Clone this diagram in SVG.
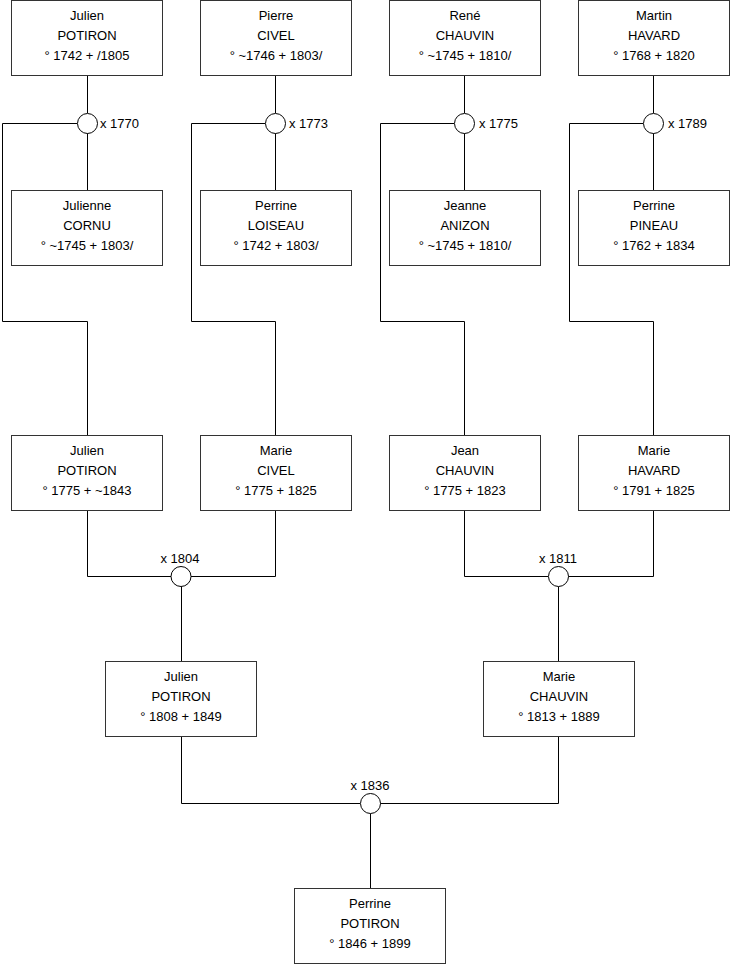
<svg xmlns="http://www.w3.org/2000/svg" width="740" height="975" viewBox="0 0 740 975">
<style>
.box{fill:#fff;stroke:#333;stroke-width:1}
.t{font-family:"Liberation Sans",Arial,sans-serif;font-size:13px;fill:#000;text-anchor:middle}
.l{font-family:"Liberation Sans",Arial,sans-serif;font-size:13px;fill:#000}
.c{fill:#fff;stroke:#000;stroke-width:1}
.w{fill:none;stroke:#000;stroke-width:1}
</style>
<rect width="740" height="975" fill="#fff"/>
<g id="connectors">
<path class="w" d="M87.5 76 V113 M87.5 133 V190 M77 123.5 H2.5 V321.5 H87.5 V435"/>
<path class="w" d="M275.5 76 V113 M275.5 133 V190 M265 123.5 H191.5 V321.5 H275.5 V435"/>
<path class="w" d="M464.5 76 V113 M464.5 133 V190 M454 123.5 H380.5 V321.5 H464.5 V435"/>
<path class="w" d="M653.5 76 V113 M653.5 133 V190 M643 123.5 H569.5 V321.5 H653.5 V435"/>
<path class="w" d="M87.5 510 V576.5 H171 M275.5 510 V576.5 H191 M181.5 586.5 V661"/>
<path class="w" d="M464.5 510 V576.5 H548 M653.5 510 V576.5 H568 M558.5 586.5 V661"/>
<path class="w" d="M181.5 737 V803.5 H360 M558.5 737 V803.5 H380 M370.5 813.5 V888"/>
<circle class="c" cx="87.5" cy="123.5" r="10"/>
<circle class="c" cx="275.5" cy="123.5" r="10"/>
<circle class="c" cx="464.5" cy="123.5" r="10"/>
<circle class="c" cx="653.5" cy="123.5" r="10"/>
<circle class="c" cx="181" cy="576.5" r="10"/>
<circle class="c" cx="558.5" cy="576.5" r="10"/>
<circle class="c" cx="370.5" cy="803.5" r="10"/>
<text class="l" x="100" y="128">x 1770</text>
<text class="l" x="289" y="128">x 1773</text>
<text class="l" x="479" y="128">x 1775</text>
<text class="l" x="668" y="128">x 1789</text>
<text class="t" x="180" y="563">x 1804</text>
<text class="t" x="558" y="563">x 1811</text>
<text class="t" x="370" y="790">x 1836</text>
</g>
<g id="n1"><rect class="box" x="11.5" y="0.5" width="151" height="75"/><text class="t" x="87" y="20">Julien</text><text class="t" x="87" y="40">POTIRON</text><text class="t" x="87" y="60">° 1742 + /1805</text></g>
<g id="n2"><rect class="box" x="200.5" y="0.5" width="151" height="75"/><text class="t" x="276" y="20">Pierre</text><text class="t" x="276" y="40">CIVEL</text><text class="t" x="276" y="60">° ~1746 + 1803/</text></g>
<g id="n3"><rect class="box" x="389.5" y="0.5" width="151" height="75"/><text class="t" x="465" y="20">René</text><text class="t" x="465" y="40">CHAUVIN</text><text class="t" x="465" y="60">° ~1745 + 1810/</text></g>
<g id="n4"><rect class="box" x="578.5" y="0.5" width="151" height="75"/><text class="t" x="654" y="20">Martin</text><text class="t" x="654" y="40">HAVARD</text><text class="t" x="654" y="60">° 1768 + 1820</text></g>
<g id="n5"><rect class="box" x="11.5" y="190.5" width="151" height="75"/><text class="t" x="87" y="210">Julienne</text><text class="t" x="87" y="230">CORNU</text><text class="t" x="87" y="250">° ~1745 + 1803/</text></g>
<g id="n6"><rect class="box" x="200.5" y="190.5" width="151" height="75"/><text class="t" x="276" y="210">Perrine</text><text class="t" x="276" y="230">LOISEAU</text><text class="t" x="276" y="250">° 1742 + 1803/</text></g>
<g id="n7"><rect class="box" x="389.5" y="190.5" width="151" height="75"/><text class="t" x="465" y="210">Jeanne</text><text class="t" x="465" y="230">ANIZON</text><text class="t" x="465" y="250">° ~1745 + 1810/</text></g>
<g id="n8"><rect class="box" x="578.5" y="190.5" width="151" height="75"/><text class="t" x="654" y="210">Perrine</text><text class="t" x="654" y="230">PINEAU</text><text class="t" x="654" y="250">° 1762 + 1834</text></g>
<g id="n9"><rect class="box" x="11.5" y="435.5" width="151" height="75"/><text class="t" x="87" y="455">Julien</text><text class="t" x="87" y="475">POTIRON</text><text class="t" x="87" y="495">° 1775 + ~1843</text></g>
<g id="n10"><rect class="box" x="200.5" y="435.5" width="151" height="75"/><text class="t" x="276" y="455">Marie</text><text class="t" x="276" y="475">CIVEL</text><text class="t" x="276" y="495">° 1775 + 1825</text></g>
<g id="n11"><rect class="box" x="389.5" y="435.5" width="151" height="75"/><text class="t" x="465" y="455">Jean</text><text class="t" x="465" y="475">CHAUVIN</text><text class="t" x="465" y="495">° 1775 + 1823</text></g>
<g id="n12"><rect class="box" x="578.5" y="435.5" width="151" height="75"/><text class="t" x="654" y="455">Marie</text><text class="t" x="654" y="475">HAVARD</text><text class="t" x="654" y="495">° 1791 + 1825</text></g>
<g id="n13"><rect class="box" x="105.5" y="661.5" width="151" height="75"/><text class="t" x="181" y="681">Julien</text><text class="t" x="181" y="701">POTIRON</text><text class="t" x="181" y="721">° 1808 + 1849</text></g>
<g id="n14"><rect class="box" x="483.5" y="661.5" width="151" height="75"/><text class="t" x="559" y="681">Marie</text><text class="t" x="559" y="701">CHAUVIN</text><text class="t" x="559" y="721">° 1813 + 1889</text></g>
<g id="n15"><rect class="box" x="294.5" y="888.5" width="151" height="75"/><text class="t" x="370" y="908">Perrine</text><text class="t" x="370" y="928">POTIRON</text><text class="t" x="370" y="948">° 1846 + 1899</text></g>
</svg>
